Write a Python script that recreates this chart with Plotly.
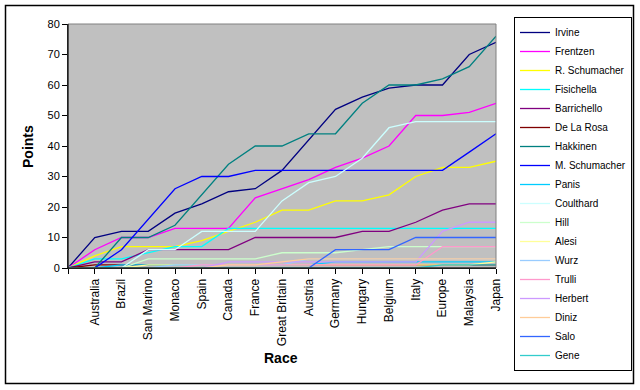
import plotly.graph_objects as go

races = [" ", "Australia", "Brazil", "San Marino", "Monaco", "Spain", "Canada", "France",
         "Great Britain", "Austria", "Germany", "Hungary", "Belgium", "Italy", "Europe",
         "Malaysia", "Japan"]

irvine = [0, 10, 12, 12, 18, 21, 25, 26, 32, 42, 52, 56, 59, 60, 60, 70, 74]
frentzen = [0, 6, 10, 10, 13, 13, 13, 23, 26, 29, 33, 36, 40, 50, 50, 51, 54]
r_schumacher = [0, 4, 7, 7, 7, 9, 12, 15, 19, 19, 22, 22, 24, 30, 33, 33, 35]
fisichella = [0, 3, 3, 5, 7, 7, 13, 13, 13, 13, 13, 13, 13, 13, 13, 13, 13]
barrichello = [0, 2, 2, 6, 6, 6, 6, 10, 10, 10, 10, 12, 12, 15, 19, 21, 21]
de_la_rosa = [0, 1, 1, 1, 1, 1, 1, 1, 1, 1, 1, 1, 1, 1, 1, 1, 1]
hakkinen = [0, 0, 10, 10, 14, 24, 34, 40, 40, 44, 44, 54, 60, 60, 62, 66, 76]
m_schumacher = [0, 0, 6, 16, 26, 30, 30, 32, 32, 32, 32, 32, 32, 32, 32, 38, 44]
panis = [0, 0, 1, 1, 1, 1, 1, 1, 1, 1, 2, 2, 2, 2, 2, 2, 2]
coulthard = [0, 0, 0, 6, 6, 12, 12, 12, 22, 28, 30, 36, 46, 48, 48, 48, 48]
hill = [0, 0, 0, 3, 3, 3, 3, 3, 5, 5, 5, 6, 7, 7, 7, 7, 7]
alesi = [0, 0, 0, 1, 1, 1, 1, 1, 1, 1, 1, 1, 1, 1, 1, 1, 2]
wurz = [0, 0, 0, 0, 1, 1, 1, 1, 1, 3, 3, 3, 3, 3, 3, 3, 3]
trulli = [0, 0, 0, 0, 0, 1, 1, 1, 1, 1, 1, 1, 1, 1, 7, 7, 7]
herbert = [0, 0, 0, 0, 0, 0, 2, 2, 2, 2, 2, 2, 2, 2, 12, 15, 15]
diniz = [0, 0, 0, 0, 0, 0, 1, 1, 2, 3, 3, 3, 3, 3, 3, 3, 3]
salo = [None, None, None, None, None, None, None, None, None, 0, 6, 6, 6, 10, 10, 10, 10]
gene = [0, 0, 0, 0, 0, 0, 0, 0, 0, 0, 0, 0, 0, 0, 1, 1, 1]

drivers = ["Irvine", "Frentzen", "R. Schumacher", "Fisichella", "Barrichello", "De La Rosa",
           "Hakkinen", "M. Schumacher", "Panis", "Coulthard", "Hill", "Alesi", "Wurz",
           "Trulli", "Herbert", "Diniz", "Salo", "Gene"]
series = [irvine, frentzen, r_schumacher, fisichella, barrichello, de_la_rosa, hakkinen,
          m_schumacher, panis, coulthard, hill, alesi, wurz, trulli, herbert, diniz, salo, gene]
colors = ["#000080", "#FF00FF", "#FFFF00", "#00FFFF", "#800080", "#800000", "#008080",
          "#0000FF", "#00CCFF", "#CCFFFF", "#CCFFCC", "#FFFF99", "#99CCFF", "#FF99CC",
          "#CC99FF", "#FFCC99", "#3366FF", "#33CCCC"]

FONT = "Arial, Liberation Sans, sans-serif"

fig = go.Figure()
for name, vals, col in zip(drivers, series, colors):
    fig.add_trace(go.Scatter(x=races, y=vals, name=name, mode="lines",
                             line=dict(color=col, width=1.3)))

L, R, T, B = 68, 496, 24, 268
W, H = 640, 390

def px(x):
    return (x - L) / (R - L)

def py(y):
    return (B - y) / (B - T)

fig.update_layout(
    width=W, height=H,
    margin=dict(l=L, r=W - R, t=T, b=H - B, autoexpand=False),
    paper_bgcolor="white",
    plot_bgcolor="#C0C0C0",
    font=dict(family=FONT, size=11, color="black"),
    showlegend=True,
    legend=dict(x=px(514), y=py(17), xanchor="left", yanchor="top",
                bgcolor="white", bordercolor="black", borderwidth=1,
                font=dict(family=FONT, size=10), itemwidth=30,
                tracegroupgap=0, maxheight=1.0),
    xaxis=dict(type="category", range=[0, 16], showgrid=False, zeroline=False,
               tickangle=-90, ticks="outside", ticklen=5, tickcolor="black",
               showline=True, linecolor="black", linewidth=1, automargin=False,
               tickfont=dict(family=FONT, size=12)),
    yaxis=dict(range=[0, 80], dtick=10, showgrid=False, zeroline=False,
               ticks="outside", ticklen=5, tickcolor="black",
               showline=True, linecolor="black", linewidth=1, automargin=False,
               tickfont=dict(family=FONT, size=11)),
    shapes=[
        dict(type="rect", xref="paper", yref="paper", x0=0, x1=1, y0=0, y1=1,
             line=dict(color="#808080", width=1), layer="above"),
        dict(type="line", xref="paper", yref="paper", x0=0, x1=0, y0=0, y1=1,
             line=dict(color="black", width=1), layer="above"),
        dict(type="line", xref="paper", yref="paper", x0=0, x1=1, y0=0, y1=0,
             line=dict(color="black", width=1), layer="above"),
        dict(type="rect", xref="paper", yref="paper", x0=px(5.5), x1=px(633.5),
             y0=py(383.5), y1=py(5.5), line=dict(color="black", width=1.5),
             layer="below"),
    ],
    annotations=[
        dict(text="<b>Points</b>", x=px(28), y=py(147), xref="paper", yref="paper",
             xanchor="center", yanchor="middle",
             showarrow=False, textangle=-90, font=dict(family=FONT, size=14)),
        dict(text="<b>Race</b>", x=px(281), y=py(358), xref="paper", yref="paper",
             xanchor="center", yanchor="middle",
             showarrow=False, font=dict(family=FONT, size=14)),
    ],
)

fig.write_html("out.html", config={"displayModeBar": False},
               post_script="document.body.style.margin='0px';")
